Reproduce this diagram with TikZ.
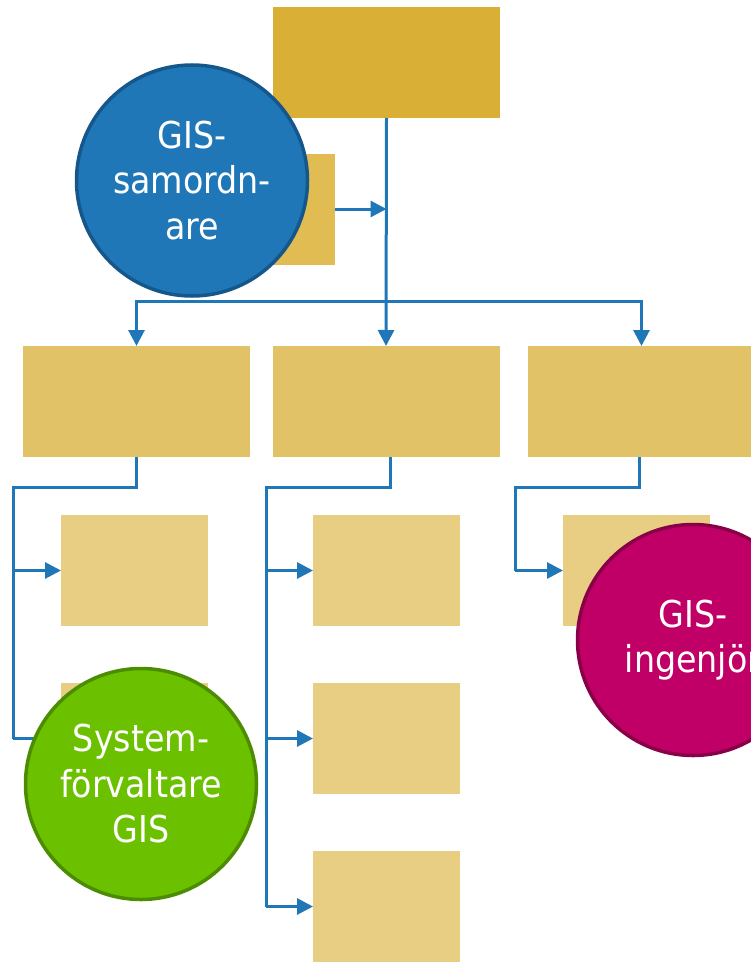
\documentclass[tikz,border=0pt]{standalone}
\usepackage{fontspec}
\setsansfont{DejaVu Sans Condensed}
\definecolor{topgold}{RGB}{218,175,53}
\definecolor{assistgold}{RGB}{224,188,82}
\definecolor{midgold}{RGB}{226,194,102}
\definecolor{lightgold}{RGB}{232,206,131}
\definecolor{lineblue}{RGB}{32,119,184}
\definecolor{roleblue}{RGB}{32,119,184}
\definecolor{roleblueline}{RGB}{21,87,138}
\definecolor{rolegreen}{RGB}{107,193,0}
\definecolor{rolegreenline}{RGB}{76,140,0}
\definecolor{rolemagenta}{RGB}{192,0,102}
\definecolor{rolemagentaline}{RGB}{138,0,72}
\tikzset{every picture/.style={/utils/exec={\sffamily}}}
\usetikzlibrary{calc}
\usetikzlibrary{positioning}
\usetikzlibrary{arrows.meta}

\begin{document}
\begin{tikzpicture}[x=1pt, y=-1pt,
    box/.style={minimum width=227pt, minimum height=111pt, inner sep=0pt, outer sep=0pt},
    unit/.style={fill=lightgold, minimum width=147pt, minimum height=111pt, inner sep=0pt, outer sep=0pt},
    role/.style={circle, draw, line width=3.5pt, minimum size=231pt, inner sep=0pt,
      text=white, align=center, font=\fontsize{37}{45.5}\selectfont},
    link/.style={draw=lineblue, line width=3pt},
    conn/.style={link, -{Triangle[length=16pt, width=16pt]}}]

  \useasboundingbox (0,0) rectangle (751,963);
  \clip (0,0) rectangle (751,963);

  \node [box, fill=topgold] (top) at (386.5,62.5) {};
  \node [unit, fill=assistgold] (assist) at (261.5,209) {};

  \foreach \n/\x in {1/136.5, 2/386, 3/641.5} {
    \node [box, fill=midgold] (dept\n) at (\x,401.5) {};
  }

  \foreach \c/\x/\rows in {1/134.5/2, 2/386.5/3, 3/636.5/1} {
    \foreach \r in {1,...,\rows} {
      \node [unit] (unit\c\r) at (\x,{570.5+168*(\r-1)}) {};
    }
  }

  % top level
  \coordinate (bus) at (386,301);
  \draw [conn] (top.south) -- (dept2.north);
  \draw [conn] (bus) -| (dept1.north);
  \draw [conn] (bus) -| (dept3.north);
  \draw [conn] (assist.east) -- (top.south |- assist.east);

  % units below each department
  \foreach \c/\dx/\rx/\rows in {1/0/13/2, 2/4/266/3, 3/-2/515/1} {
    \coordinate (rail\c) at (\rx,487);
    \draw [link] ([xshift=\dx pt]dept\c.south) |- (rail\c) -- (rail\c |- unit\c\rows.west);
    \foreach \r in {1,...,\rows} {
      \draw [conn] (rail\c |- unit\c\r.west) -- (unit\c\r.west);
    }
  }

  \node [role, fill=roleblue, draw=roleblueline] (samordnare) at (192,180.5) {GIS-\\samordn-\\are};
  \node [role, fill=rolegreen, draw=rolegreenline] (forvaltare) at (141,784) {System-\\förvaltare\\GIS};
  \node [role, fill=rolemagenta, draw=rolemagentaline] (ingenjor) at (693,640) {GIS-\\ingenjör};

\end{tikzpicture}
\end{document}
